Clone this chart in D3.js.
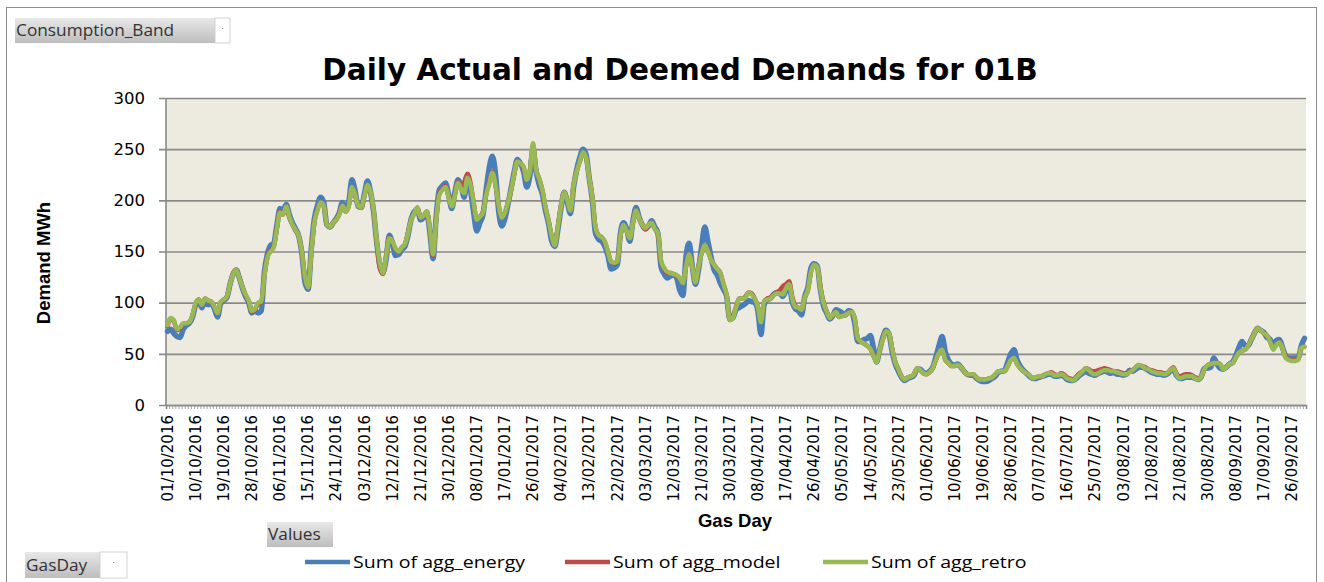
<!DOCTYPE html>
<html lang="en">
  <head>
    <meta charset="UTF-8" />
    <title>Daily Actual and Deemed Demands for 01B</title>
    <script src="https://cdnjs.cloudflare.com/ajax/libs/d3/7.8.5/d3.min.js"></script>
    <style>
      body { margin: 0; background: #fff; }
      svg { display: block; }
    </style>
  </head>
  <body>
    <svg id="chart" width="1324" height="582"></svg>

    <script type="text/javascript">
      // first and last gas day of the series (categories)
      var startDay = new Date(2016, 9, 1),
        endDay = new Date(2017, 9, 1);
      var yTicks = [0, 50, 100, 150, 200, 250, 300];
      var seriesNames = ["Sum of agg_energy", "Sum of agg_model", "Sum of agg_retro"];

      /* daily values, MWh */
      var energy = [
        72,74,70,67,66,74,78,80,86,98,
        102,95,102,98,99,94,86,99,102,105,
        118,128,132,124,114,106,100,90,92,90,
        92,130,148,156,158,176,192,190,196,186,
        178,172,165,148,120,113,152,182,195,203,
        198,176,174,178,182,188,198,192,198,220,
        210,194,193,206,219,208,188,158,136,130,
        143,166,158,146,147,152,155,166,182,189,
        191,181,183,188,168,143,184,210,214,217,
        205,192,208,220,214,203,222,210,188,170,
        178,186,210,232,243,226,190,175,182,196,
        212,228,240,236,228,213,224,250,228,215,
        206,190,177,160,155,172,193,208,198,187,
        213,230,242,250,245,222,200,168,162,160,
        155,146,133,134,137,168,178,172,160,180,
        193,183,176,172,175,180,174,168,135,128,
        124,126,127,124,112,107,145,158,136,118,
        132,155,174,160,145,132,127,119,113,106,
        84,85,93,95,97,99,102,101,100,92,
        69,98,103,104,108,110,109,106,112,116,
        101,94,92,88,106,115,134,138,136,113,
        97,90,84,87,93,92,90,88,92,91,
        80,62,62,64,65,68,56,42,54,66,
        73,69,52,40,33,27,24,26,27,29,
        35,35,32,31,33,37,47,58,67,52,
        44,40,39,40,37,33,30,29,29,26,
        24,23,23,24,26,28,32,33,34,42,
        50,54,44,38,34,31,28,26,26,27,
        28,29,30,30,28,28,29,28,25,24,
        24,26,29,31,33,31,30,29,31,32,
        33,32,31,32,30,30,29,30,34,33,
        35,37,37,36,34,32,31,30,30,29,
        30,33,35,29,26,26,27,27,27,26,
        25,28,36,36,37,46,40,36,35,37,
        40,42,48,56,62,58,58,64,70,75,
        73,71,66,64,58,63,64,56,48,46,
        46,46,46,58,65
      ];

      var model = [
        77,84,82,73,75,79,80,81,87,99,
        103,98,104,102,101,96,90,100,103,106,
        118,129,132,124,115,107,101,91,93,99,
        100,127,145,151,155,173,189,186,194,183,
        176,170,165,149,124,115,149,179,191,198,
        195,176,174,178,181,187,195,189,194,213,
        206,195,193,204,215,207,188,158,133,128,
        146,164,160,152,150,154,157,169,181,187,
        193,183,185,189,170,146,182,207,211,214,
        204,195,206,218,214,218,226,217,198,181,
        184,189,206,218,228,215,195,183,188,198,
        210,226,238,236,232,220,228,254,230,221,
        210,193,180,165,156,175,195,208,200,190,
        215,229,238,246,242,222,203,174,166,164,
        159,150,140,138,140,165,176,170,163,178,
        190,182,176,172,176,178,172,167,140,133,
        129,129,128,126,124,119,135,147,135,120,
        136,149,156,151,142,137,133,129,118,107,
        83,86,96,104,104,106,110,109,104,96,
        82,101,104,105,108,110,112,116,118,121,
        106,97,95,93,105,112,130,137,135,116,
        101,92,85,88,91,86,87,88,90,91,
        85,65,62,60,58,55,48,43,54,64,
        72,70,55,42,35,28,25,27,28,30,
        36,34,31,30,32,36,44,51,54,44,
        41,38,38,39,37,33,30,30,30,27,
        25,25,25,26,27,30,33,33,33,38,
        44,46,40,36,33,31,29,26,27,28,
        28,30,31,32,30,29,31,30,27,26,
        25,28,31,33,36,35,33,33,34,35,
        36,35,34,33,33,32,31,31,33,34,
        37,39,38,37,35,34,33,32,32,31,
        31,34,37,31,28,29,30,30,29,27,
        26,28,35,39,40,41,41,40,35,37,
        40,41,46,51,53,54,58,64,71,75,
        73,70,68,62,55,59,61,55,47,45,
        44,44,45,56,57
      ];

      var retro = [
        78,85,83,74,76,80,80,81,88,100,
        103,98,104,102,101,96,90,101,103,106,
        118,128,132,124,115,108,102,92,94,100,
        101,126,144,150,154,172,188,186,194,184,
        176,171,165,150,125,115,148,178,190,198,
        195,176,174,178,181,186,195,189,194,213,
        206,195,193,204,215,208,190,160,138,129,
        146,163,160,153,150,154,157,168,181,187,
        193,183,185,189,172,147,180,205,210,213,
        203,194,205,217,211,207,222,215,198,181,
        184,188,205,216,227,215,196,183,188,198,
        210,226,238,236,233,220,228,256,230,221,
        210,194,180,165,156,175,195,208,200,190,
        215,228,238,247,242,222,203,174,166,164,
        160,150,140,139,140,165,176,170,163,178,
        190,182,176,173,176,178,172,168,141,134,
        130,129,128,127,124,119,135,147,135,120,
        135,148,156,150,142,137,133,129,118,108,
        83,85,95,104,104,105,110,108,104,96,
        81,101,103,104,107,109,109,108,114,118,
        104,96,95,93,105,112,130,137,135,115,
        100,92,85,88,91,86,87,88,90,91,
        85,65,62,60,58,55,48,42,54,64,
        72,70,55,42,35,28,25,27,28,30,
        36,34,31,30,32,36,44,51,54,44,
        41,38,38,39,37,33,30,30,30,27,
        25,25,25,26,27,30,33,33,33,38,
        44,46,40,36,33,31,29,26,27,28,
        28,30,31,31,29,29,30,29,26,25,
        24,27,30,33,36,34,31,30,31,33,
        34,34,33,33,32,31,30,30,32,34,
        37,39,38,36,35,33,32,31,31,30,
        31,34,36,30,26,27,28,28,28,26,
        25,28,35,39,40,41,41,40,35,37,
        40,41,46,51,53,54,58,64,70,75,
        73,70,68,62,54,59,61,55,46,44,
        43,43,44,56,57
      ];

      var days = d3.timeDay.range(startDay, endDay);
      var fmt = d3.timeFormat("%d/%m/%Y");

      var svg = d3.select("#chart");
      var plotLeft = 166, plotRight = 1306, plotTop = 98, plotBottom = 405;

      // outer chart frame
      svg.append("rect")
        .attr("x", 6.5).attr("y", 7.5)
        .attr("width", 1310).attr("height", 590)
        .attr("fill", "#fff")
        .attr("stroke", "#8c8c8c");

      svg.append("rect")
        .attr("x", plotLeft).attr("y", plotTop)
        .attr("width", plotRight - plotLeft).attr("height", plotBottom - plotTop)
        .attr("fill", "#edeae0");

      var x = d3.scaleBand().domain(days).range([plotLeft, plotRight]);
      var xi = d3.scaleLinear().domain([0, days.length]).range([plotLeft, plotRight]);
      var y = d3.scaleLinear().domain([0, 300]).range([plotBottom, plotTop]);

      /* grid + y axis */
      var yAxis = svg.append("g")
        .attr("transform", "translate(159,0)")
        .call(d3.axisLeft(y).tickValues(yTicks).tickSize(-(plotRight - 159)).tickPadding(14));
      yAxis.select(".domain").remove();
      yAxis.selectAll("line").attr("stroke", "#8a8a8a").attr("stroke-width", 1.6);
      yAxis.selectAll("text")
        .attr("font-family", "DejaVu Sans, Verdana, sans-serif")
        .attr("font-size", 16.5).attr("fill", "#000");

      svg.append("line")
        .attr("x1", plotLeft).attr("x2", plotLeft)
        .attr("y1", plotTop).attr("y2", plotBottom)
        .attr("stroke", "#8a8a8a").attr("stroke-width", 1.6);

      // minor tick for every day
      var minor = svg.append("g")
        .attr("transform", "translate(0," + plotBottom + ")")
        .call(d3.axisBottom(xi).tickValues(d3.range(days.length + 1)).tickSize(4).tickFormat(""));
      minor.select(".domain").attr("stroke", "#8a8a8a").attr("stroke-width", 1.6);
      minor.selectAll("line").attr("stroke", "#8a8a8a").attr("stroke-width", 0.8);

      var labelDays = days.filter(function (d, i) { return i % 9 === 0; });
      var xAxis = svg.append("g")
        .attr("transform", "translate(0," + (plotBottom + 10) + ")")
        .call(d3.axisBottom(x).tickValues(labelDays).tickSize(0).tickFormat(fmt));
      xAxis.select(".domain").remove();
      xAxis.selectAll("text")
        .attr("font-family", "DejaVu Sans, Verdana, sans-serif")
        .attr("font-size", 15).attr("fill", "#000")
        .attr("text-anchor", "end")
        .attr("dy", "0.35em")
        .attr("transform", "rotate(-90)")
        .attr("x", 0).attr("y", 0);

      /* series */
      var series = [
        { name: seriesNames[0], values: energy, color: "#4a7ebb", width: 5.5 },
        { name: seriesNames[1], values: model, color: "#be4b48", width: 4.5 },
        { name: seriesNames[2], values: retro, color: "#98b954", width: 4.5 }
      ];

      var line = d3.line()
        .x(function (d, i) { return x(days[i]) + x.bandwidth() / 2; })
        .y(function (d) { return y(d); })
        .curve(d3.curveMonotoneX);

      svg.selectAll("path.series")
        .data(series)
        .enter()
        .append("path")
        .attr("class", "series")
        .attr("fill", "none")
        .attr("stroke", function (d) { return d.color; })
        .attr("stroke-width", function (d) { return d.width; })
        .attr("stroke-linejoin", "round")
        .attr("stroke-linecap", "round")
        .attr("d", function (d) { return line(d.values); });

      /* titles */
      svg.append("text")
        .attr("x", 680).attr("y", 80)
        .attr("text-anchor", "middle")
        .attr("font-family", "DejaVu Sans, Verdana, sans-serif")
        .attr("font-weight", "bold").attr("font-size", 29.5)
        .text("Daily Actual and Deemed Demands for 01B");

      svg.append("text")
        .attr("transform", "translate(50,263) rotate(-90)")
        .attr("text-anchor", "middle")
        .attr("font-family", "Liberation Sans Narrow, Arial Narrow, sans-serif")
        .attr("font-weight", "bold").attr("font-size", 18.5)
        .text("Demand MWh");

      svg.append("text")
        .attr("x", 735).attr("y", 527)
        .attr("text-anchor", "middle")
        .attr("font-family", "Liberation Sans Narrow, Arial Narrow, sans-serif")
        .attr("font-weight", "bold").attr("font-size", 18.5)
        .text("Gas Day");

      /* legend */
      var legX = [305, 565, 823];
      var leg = svg.selectAll("g.leg")
        .data(series)
        .enter()
        .append("g")
        .attr("class", "leg")
        .attr("transform", function (d, i) { return "translate(" + legX[i] + ",562)"; });
      leg.append("line")
        .attr("x1", 0).attr("x2", 45)
        .attr("stroke", function (d) { return d.color; })
        .attr("stroke-width", 4.5);
      // the legend text in the original is drawn a bit wide
      leg.append("text")
        .attr("transform", "translate(48,0) scale(1.15,1)")
        .attr("dy", "0.35em")
        .attr("font-family", "Open Sans, DejaVu Sans, sans-serif")
        .attr("font-size", 17)
        .text(function (d) { return d.name; });

      /* pivot field buttons */
      var grad = svg.append("defs").append("linearGradient")
        .attr("id", "btn").attr("x1", 0).attr("y1", 0).attr("x2", 0).attr("y2", 1);
      grad.append("stop").attr("offset", "0%").attr("stop-color", "#e8e8e8");
      grad.append("stop").attr("offset", "100%").attr("stop-color", "#bdbdbd");

      function button(bx, by, w, h, label, drop) {
        svg.append("rect")
          .attr("x", bx).attr("y", by).attr("width", w).attr("height", h)
          .attr("fill", "url(#btn)");
        if (drop) {
          svg.append("rect")
            .attr("x", bx + w - drop).attr("y", by).attr("width", drop).attr("height", h)
            .attr("fill", "#fff").attr("stroke", "#c8c8c8").attr("stroke-width", 0.8);
          svg.append("text")
            .attr("x", bx + w - drop / 2).attr("y", by + h / 2 + 3)
            .attr("text-anchor", "middle").attr("font-size", 9).text("\u02D9");
        }
        svg.append("text")
          .attr("transform", "translate(" + (bx + 1) + "," + (by + h / 2) + ") scale(1.08,1)")
          .attr("dy", "0.35em")
          .attr("font-family", "Open Sans, DejaVu Sans, sans-serif")
          .attr("font-size", 16).attr("fill", "#333")
          .text(label);
      }
      button(15, 18, 215, 25, "Consumption_Band", 15);
      button(267, 522, 66, 25, "Values", 0);
      button(25, 552, 102, 26, "GasDay", 27);
    </script>
  </body>
</html>
